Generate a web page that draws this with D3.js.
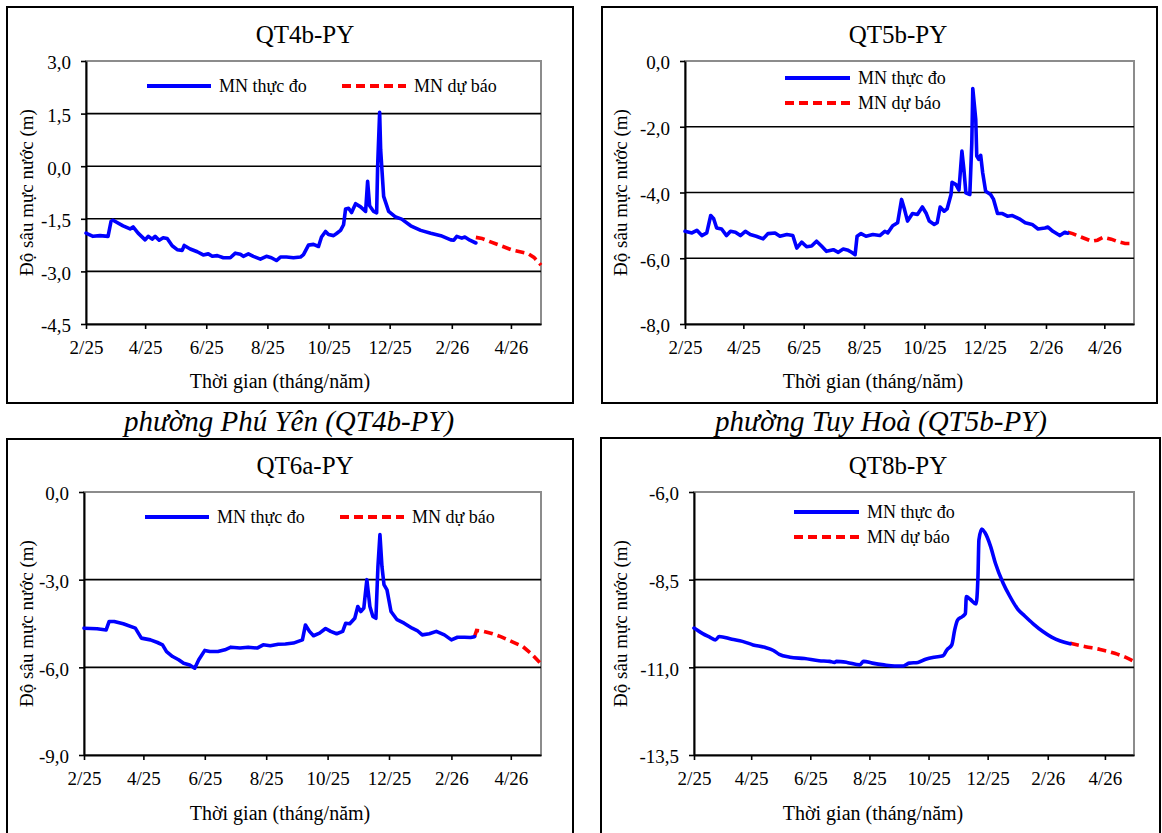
<!DOCTYPE html>
<html>
<head>
<meta charset="utf-8">
<script src="https://cdn.jsdelivr.net/npm/d3@7"></script>
<style>
  html, body { margin: 0; padding: 0; background: #fff; }
  svg { display: block; }
  svg text { font-family: "Liberation Serif", "DejaVu Serif", serif; fill: #000; }
</style>
</head>
<body>
<svg id="chart" width="1162" height="833"></svg>
<script>
// ---------- DATA ----------
const startDate = "2025-02-01";           // day 0 of every series
const endDay = 454;                        // 2026-05-01
const xTickDays = [0, 59, 120, 181, 242, 303, 365, 424];
const xTickLabels = ["2/25", "4/25", "6/25", "8/25", "10/25", "12/25", "2/26", "4/26"];

const stations = ["QT4b-PY", "QT5b-PY", "QT6a-PY", "QT8b-PY"];
const captions = ["phường Phú Yên (QT4b-PY)", "phường Tuy Hoà (QT5b-PY)"];
const legendLabels = ["MN thực đo", "MN dự báo"];
const xAxisTitle = "Thời gian (tháng/năm)";
const yAxisTitle = "Độ sâu mực nước (m)";

const yTicks4b = [3, 1.5, 0, -1.5, -3, -4.5];
const yTicks5b = [0, -2, -4, -6, -8];
const yTicks6a = [0, -3, -6, -9];
const yTicks8b = [-6, -8.5, -11, -13.5];

// QT4b-PY
const obsDays4b = [0,7,14,22,25,27,37,44,47,52,59,62,66,69,73,77,81,86,91,96,98,104,111,117,122,126,131,137,144,149,154,157,162,167,174,180,185,190,194,200,207,214,217,222,227,232,235,239,242,247,250,254,257,259,262,265,269,274,279,281,283,287,290,291,293,294,297,302,309,315,324,334,344,354,364,367,370,375,378,383,389];
const obsVals4b = [-1.91,-2.00,-1.98,-2.00,-1.57,-1.54,-1.70,-1.79,-1.73,-1.91,-2.10,-2.00,-2.08,-2.00,-2.11,-2.04,-2.06,-2.27,-2.38,-2.40,-2.26,-2.36,-2.44,-2.53,-2.50,-2.57,-2.55,-2.61,-2.61,-2.48,-2.51,-2.57,-2.50,-2.57,-2.65,-2.57,-2.61,-2.69,-2.59,-2.59,-2.61,-2.59,-2.52,-2.25,-2.23,-2.29,-2.02,-1.86,-1.95,-1.98,-1.92,-1.83,-1.67,-1.22,-1.20,-1.32,-1.07,-1.16,-1.29,-0.43,-1.13,-1.29,-1.33,0.00,1.54,0.47,-0.86,-1.29,-1.45,-1.51,-1.70,-1.83,-1.91,-1.98,-2.10,-2.11,-2.00,-2.05,-2.02,-2.11,-2.19];
const fcDays4b = [389,395,403,415,425,433,441,447,454];
const fcVals4b = [-2.03,-2.06,-2.15,-2.28,-2.39,-2.44,-2.49,-2.60,-2.82];

// QT5b-PY
const obsDays5b = [0,7,12,17,22,26,29,32,37,42,46,51,56,61,66,72,79,84,91,96,103,109,113,118,123,128,133,138,143,150,155,160,165,168,172,174,178,183,190,197,202,205,210,215,219,222,225,230,235,240,244,247,252,255,258,262,265,269,270,274,277,280,282,284,288,290,291,294,295,297,299,301,304,309,312,316,321,326,331,338,344,351,357,364,367,372,379,384,387];
const obsVals5b = [-5.18,-5.23,-5.15,-5.31,-5.23,-4.70,-4.80,-5.08,-5.11,-5.31,-5.18,-5.21,-5.31,-5.18,-5.28,-5.33,-5.41,-5.25,-5.23,-5.33,-5.28,-5.31,-5.69,-5.51,-5.65,-5.63,-5.48,-5.63,-5.79,-5.74,-5.82,-5.72,-5.76,-5.81,-5.89,-5.33,-5.25,-5.33,-5.28,-5.31,-5.18,-5.23,-5.01,-4.92,-4.21,-4.52,-4.87,-4.64,-4.67,-4.44,-4.64,-4.87,-4.97,-4.92,-4.44,-4.57,-4.50,-4.06,-3.69,-3.76,-3.93,-2.74,-3.30,-4.01,-4.06,-2.49,-0.84,-1.78,-2.89,-2.99,-2.87,-3.40,-3.96,-4.06,-4.21,-4.64,-4.64,-4.72,-4.70,-4.80,-4.92,-4.97,-5.11,-5.08,-5.05,-5.18,-5.31,-5.21,-5.24];
const fcDays5b = [387,392,401,411,417,423,431,438,445,454];
const fcVals5b = [-5.21,-5.25,-5.36,-5.48,-5.45,-5.36,-5.42,-5.50,-5.55,-5.55];

// QT6a-PY
const obsDays6a = [0,13,22,25,30,39,51,57,66,73,78,82,88,94,99,105,110,114,120,125,133,140,146,155,163,172,178,185,193,200,208,217,220,224,228,234,240,245,251,257,260,264,269,272,275,278,281,284,287,290,292,294,296,298,301,305,311,318,326,331,336,343,350,358,365,371,378,384,388];
const obsVals6a = [-4.66,-4.68,-4.72,-4.43,-4.43,-4.51,-4.66,-5.00,-5.06,-5.15,-5.23,-5.46,-5.63,-5.74,-5.86,-5.92,-6.03,-5.74,-5.42,-5.46,-5.46,-5.40,-5.31,-5.34,-5.31,-5.34,-5.23,-5.26,-5.21,-5.20,-5.17,-5.06,-4.55,-4.77,-4.92,-4.83,-4.67,-4.77,-4.85,-4.77,-4.49,-4.51,-4.32,-3.92,-4.09,-3.97,-3.00,-3.92,-4.26,-4.32,-2.55,-1.46,-2.55,-3.17,-3.35,-4.09,-4.37,-4.49,-4.66,-4.74,-4.89,-4.85,-4.77,-4.89,-5.06,-4.97,-4.97,-4.98,-4.95];
const fcDays6a = [388,390,397,406,414,425,436,444,454];
const fcVals6a = [-4.95,-4.74,-4.77,-4.85,-4.95,-5.12,-5.29,-5.52,-5.88];

// QT8b-PY
const obsDays8b = [0,9,17,22,26,39,50,61,73,82,88,99,114,129,140,145,147,158,171,175,184,196,207,216,222,231,239,248,257,261,266,269,272,277,280,281,285,291,293,294,297,300,306,311,319,326,334,341,350,360,369,378,388];
const obsVals8b = [-9.88,-10.04,-10.15,-10.22,-10.12,-10.20,-10.26,-10.36,-10.43,-10.52,-10.63,-10.71,-10.75,-10.81,-10.83,-10.86,-10.83,-10.86,-10.93,-10.83,-10.88,-10.93,-10.96,-10.96,-10.88,-10.86,-10.77,-10.71,-10.67,-10.50,-10.36,-9.93,-9.65,-9.55,-9.47,-8.98,-9.06,-9.19,-8.41,-7.36,-7.06,-7.15,-7.55,-8.03,-8.60,-8.98,-9.34,-9.53,-9.76,-9.98,-10.14,-10.25,-10.33];
const fcDays8b = [388,404,419,434,445,454];
const fcVals8b = [-10.31,-10.41,-10.49,-10.60,-10.71,-10.83];

// ---------- LAYOUT ----------
const panels = [
  { name: stations[0], obsD: obsDays4b, obsV: obsVals4b, fcD: fcDays4b, fcV: fcVals4b, yTicks: yTicks4b, smooth: false,
    box: [7, 7, 573, 403], plot: [86, 541, 61, 324], titleX: 305, titleY: 43, xtX: 280, xtY: 388, ytX: 33, legend: "h", legY: 86 },
  { name: stations[1], obsD: obsDays5b, obsV: obsVals5b, fcD: fcDays5b, fcV: fcVals5b, yTicks: yTicks5b, smooth: false,
    box: [602, 7, 1157, 403], plot: [685, 1134, 61, 324], titleX: 898, titleY: 43, xtX: 873, xtY: 388, ytX: 627, legend: "v", legY: 78 },
  { name: stations[2], obsD: obsDays6a, obsV: obsVals6a, fcD: fcDays6a, fcV: fcVals6a, yTicks: yTicks6a, smooth: false,
    box: [7, 439, 573, 845], plot: [84, 541, 492, 755], titleX: 305, titleY: 474, xtX: 280, xtY: 820, ytX: 33, legend: "h", legY: 517 },
  { name: stations[3], obsD: obsDays8b, obsV: obsVals8b, fcD: fcDays8b, fcV: fcVals8b, yTicks: yTicks8b, smooth: true,
    box: [601, 438, 1160, 845], plot: [694, 1134, 492, 755], titleX: 898, titleY: 474, xtX: 873, xtY: 820, ytX: 627, legend: "v", legY: 512 }
];

const FONT = "'Liberation Serif', 'DejaVu Serif', serif";
const BLUE = "#0000FF", RED = "#FF0000";
const svg = d3.select("#chart");
svg.append("rect").attr("width", 1162).attr("height", 833).attr("fill", "#fff");

const t0 = new Date(startDate + "T00:00:00Z");
const dayToDate = d => d3.utcDay.offset(t0, d);
const locale = d3.formatLocale({ decimal: ",", thousands: ".", grouping: [3], currency: ["", ""], minus: "-" });
const yFmt = locale.format(".1f");

function txt(sel) { return sel.attr("font-family", FONT).attr("fill", "#000"); }

// captions
txt(svg.append("text")).attr("x", 289).attr("y", 431).attr("text-anchor", "middle")
  .attr("font-size", 29).attr("font-style", "italic").text(captions[0]);
txt(svg.append("text")).attr("x", 881).attr("y", 431).attr("text-anchor", "middle")
  .attr("font-size", 29).attr("font-style", "italic").text(captions[1]);

panels.forEach(p => {
  const g = svg.append("g");
  const [bx0, by0, bx1, by1] = p.box;
  const [L, R, T, B] = p.plot;

  g.append("rect").attr("x", bx0).attr("y", by0).attr("width", bx1 - bx0).attr("height", by1 - by0)
    .attr("fill", "#fff").attr("stroke", "#000").attr("stroke-width", 2);

  const x = d3.scaleUtc().domain([t0, dayToDate(endDay)]).range([L, R]);
  const yExt = d3.extent(p.yTicks);
  const y = d3.scaleLinear().domain(yExt).range([B, T]);

  // plot frame
  g.append("rect").attr("x", L).attr("y", T).attr("width", R - L).attr("height", B - T)
    .attr("fill", "none").attr("stroke", "#8c8c8c").attr("stroke-width", 2);

  // gridlines
  g.selectAll(".grid").data(p.yTicks.filter(v => v !== yExt[0] && v !== yExt[1]))
    .enter().append("line")
    .attr("x1", L).attr("x2", R).attr("y1", d => y(d)).attr("y2", d => y(d))
    .attr("stroke", "#000").attr("stroke-width", 1.6);

  // axes
  const xAxis = d3.axisBottom(x).tickValues(xTickDays.map(dayToDate))
    .tickFormat((d, i) => xTickLabels[i]).tickSize(5).tickSizeOuter(0).tickPadding(12);
  const gx = g.append("g").attr("transform", `translate(0,${B})`).call(xAxis);
  const yAxis = d3.axisLeft(y).tickValues(p.yTicks).tickFormat(yFmt).tickSize(5).tickSizeOuter(0).tickPadding(10);
  const gy = g.append("g").attr("transform", `translate(${L},0)`).call(yAxis);
  [gx, gy].forEach(a => {
    a.attr("font-family", FONT).attr("font-size", 19);
    a.select(".domain").attr("stroke", "#000").attr("stroke-width", 2);
    a.selectAll(".tick line").attr("stroke", "#000").attr("stroke-width", 1.6);
    a.selectAll("text").attr("fill", "#000").attr("font-family", FONT).attr("font-size", 19);
  });
  gy.selectAll("text").attr("dy", "0.42em");

  // lines
  const line = d3.line().x(d => x(dayToDate(d[0]))).y(d => y(d[1]))
    .curve(p.smooth ? d3.curveMonotoneX : d3.curveLinear);
  const obs = p.obsD.map((d, i) => [d, p.obsV[i]]);
  const fc = p.fcD.map((d, i) => [d, p.fcV[i]]);
  g.append("path").attr("d", line(fc)).attr("fill", "none").attr("stroke", RED)
    .attr("stroke-width", 3.6).attr("stroke-dasharray", "9,5");
  g.append("path").attr("d", line(obs)).attr("fill", "none").attr("stroke", BLUE)
    .attr("stroke-width", 3.6).attr("stroke-linejoin", "round").attr("stroke-linecap", "round");

  // titles
  txt(g.append("text")).attr("x", p.titleX).attr("y", p.titleY).attr("text-anchor", "middle")
    .attr("font-size", 25).text(p.name);
  txt(g.append("text")).attr("x", p.xtX).attr("y", p.xtY).attr("text-anchor", "middle")
    .attr("font-size", 20).text(xAxisTitle);
  txt(g.append("text")).attr("transform", `translate(${p.ytX},${(T + B) / 2}) rotate(-90)`)
    .attr("text-anchor", "middle").attr("font-size", 19).text(yAxisTitle);

  // legend
  const items = [{ c: BLUE, dash: null, label: legendLabels[0] }, { c: RED, dash: "9,5", label: legendLabels[1] }];
  items.forEach((it, i) => {
    let lx0, lx1, ty, tx;
    if (p.legend === "h") {
      lx0 = i === 0 ? L + 61 : L + 256; lx1 = lx0 + 64; ty = p.legY; tx = lx1 + 8;
    } else {
      lx0 = L + 100; lx1 = lx0 + 65; ty = p.legY + i * 25; tx = lx1 + 8;
    }
    const ln = g.append("line").attr("x1", lx0).attr("x2", lx1).attr("y1", ty).attr("y2", ty)
      .attr("stroke", it.c).attr("stroke-width", 4);
    if (it.dash) ln.attr("stroke-dasharray", it.dash);
    txt(g.append("text")).attr("x", tx).attr("y", ty).attr("dy", "0.33em")
      .attr("font-size", 18).text(it.label);
  });
});
</script>
</body>
</html>
